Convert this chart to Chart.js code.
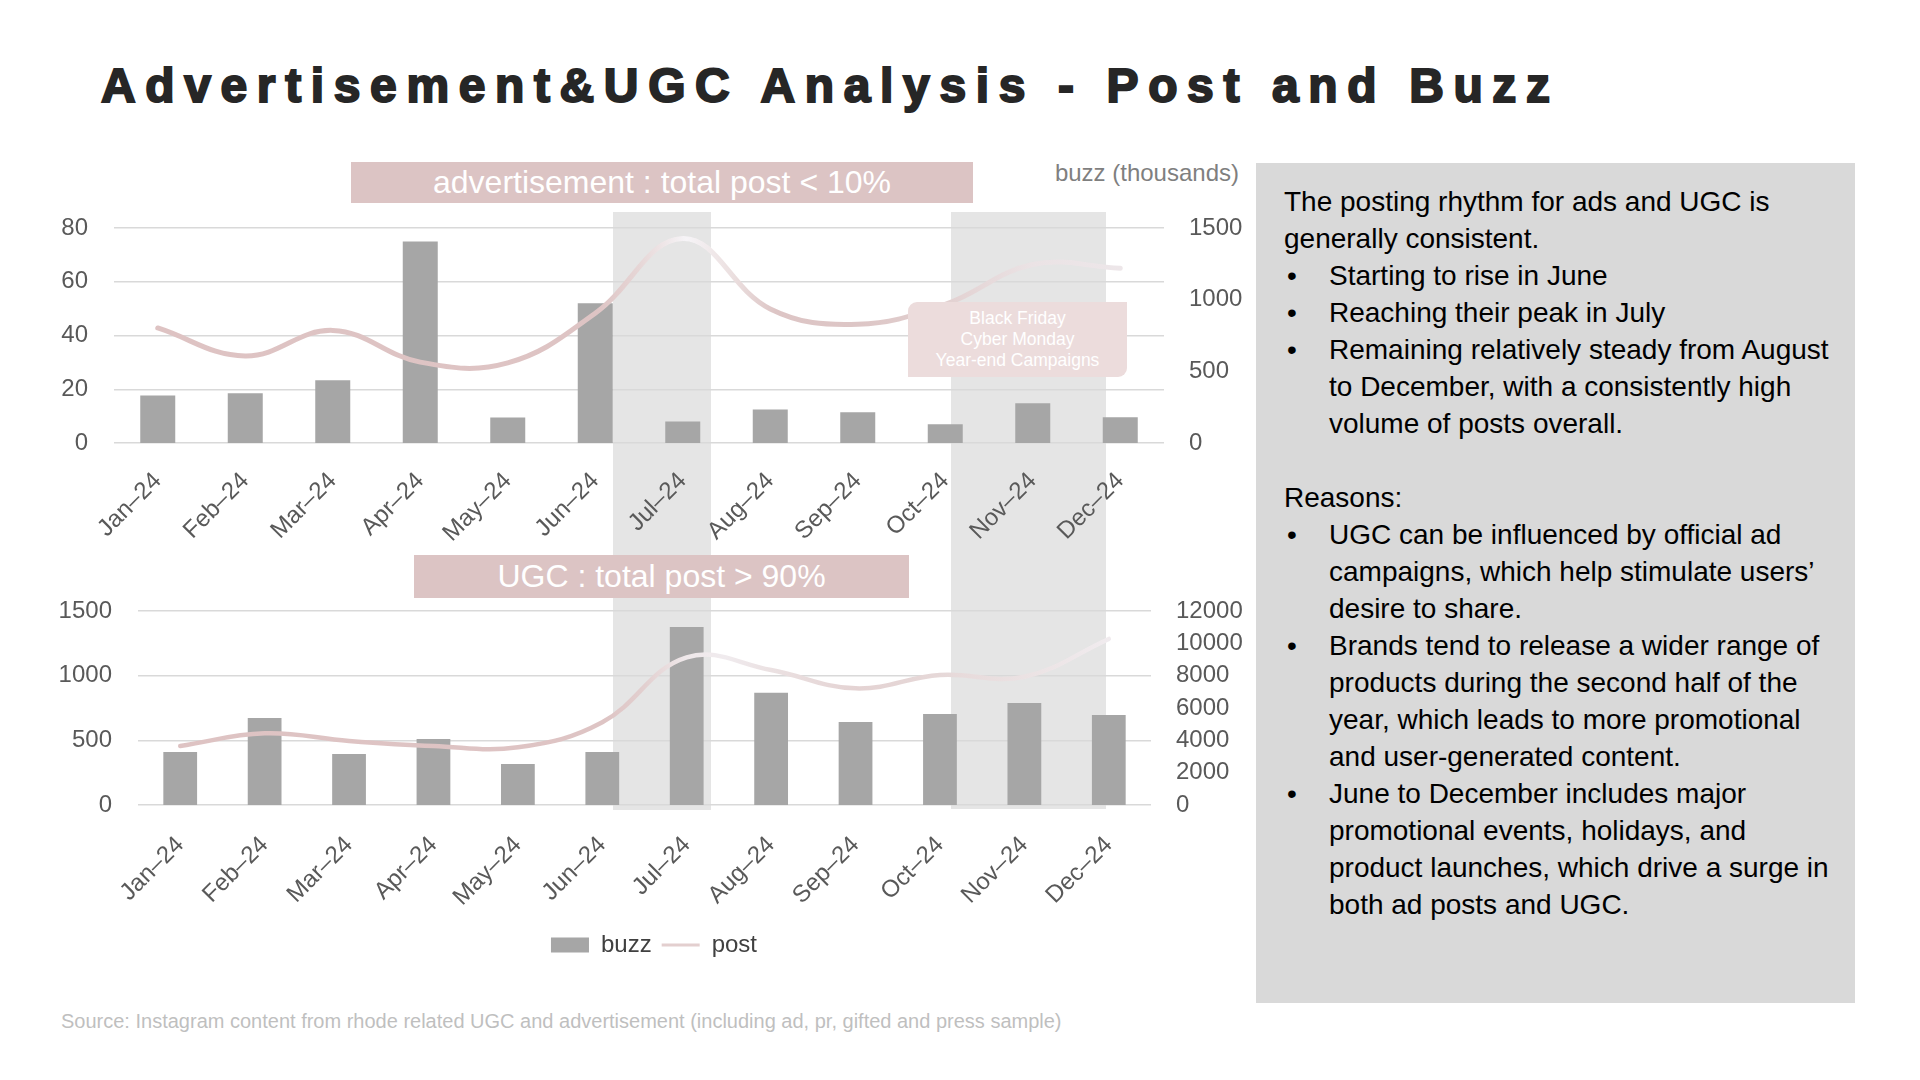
<!DOCTYPE html>
<html>
<head>
<meta charset="utf-8">
<script src="https://cdn.jsdelivr.net/npm/chart.js@4.4.1/dist/chart.umd.min.js"></script>
<style>
  html, body { margin: 0; padding: 0; background: #fff; }
  #slide { position: relative; width: 1920px; height: 1080px; overflow: hidden; background: #fff;
           font-family: "Liberation Sans", Arial, sans-serif; }
  .abs { position: absolute; }
  #title { left: 101px; top: 62px; font-size: 48px; line-height: 48px; font-weight: 700; color: #262626;
           white-space: nowrap; -webkit-text-stroke: 2px #262626; }
  .band { background: #e5e5e5; }
  .tag { background: #dcc4c4; color: #fff; font-size: 32px; text-align: center; white-space: nowrap; }
  #axisNote { left: 1000px; top: 161px; width: 239px; text-align: right; font-size: 24px; line-height: 24px; color: #7f7f7f; }
  #promo { left: 908px; top: 302px; width: 219px; height: 75px; box-sizing: border-box; padding-top: 6px;
           background: #ecdcdc; border-radius: 9px 0 9px 0; color: #fff;
           font-size: 17.5px; line-height: 21px; text-align: center; white-space: nowrap; }
  #notes { left: 1256px; top: 163px; width: 599px; height: 840px; background: #d9d9d9; }
  #notesText { position: absolute; left: 28px; top: 20px; font-size: 28px; line-height: 37px; color: #000; white-space: nowrap; }
  .li { position: relative; padding-left: 45px; }
  .li::before { content: "•"; position: absolute; left: 3px; top: 0; }
  #source { left: 61px; top: 1011px; font-size: 20px; line-height: 20px; color: #bfbfbf; white-space: nowrap; }
</style>
</head>
<body>
<div id="slide">
  <div id="title" class="abs">Advertisement&amp;UGC Analysis - Post and Buzz</div>

  <div class="abs band" style="left:613px; top:212px; width:98px; height:598px;"></div>
  <div class="abs band" style="left:951px; top:212px; width:155px; height:597px;"></div>

  <canvas id="chartAd" class="abs" width="1250" height="360" style="left:0; top:200px;"></canvas>
  <canvas id="chartUgc" class="abs" width="1308" height="387" style="left:0; top:580px;"></canvas>

  <div class="abs tag" style="left:351px; top:162px; width:622px; height:41px; line-height:41px;">advertisement : total post &lt; 10%</div>
  <div class="abs tag" style="left:414px; top:555px; width:495px; height:43px; line-height:43px;">UGC : total post &gt; 90%</div>
  <div id="axisNote" class="abs">buzz (thousands)</div>
  <div id="promo" class="abs">Black Friday<br>Cyber Monday<br>Year-end Campaigns</div>

  <div id="notes" class="abs">
    <div id="notesText">
      <div>The posting rhythm for ads and UGC is<br>generally consistent.</div>
      <div class="li">Starting to rise in June</div>
      <div class="li">Reaching their peak in July</div>
      <div class="li">Remaining relatively steady from August<br>to December, with a consistently high<br>volume of posts overall.</div>
      <div>&nbsp;</div>
      <div>Reasons:</div>
      <div class="li">UGC can be influenced by official ad<br>campaigns, which help stimulate users’<br>desire to share.</div>
      <div class="li">Brands tend to release a wider range of<br>products during the second half of the<br>year, which leads to more promotional<br>and user-generated content.</div>
      <div class="li">June to December includes major<br>promotional events, holidays, and<br>product launches, which drive a surge in<br>both ad posts and UGC.</div>
    </div>
  </div>

  <div id="source" class="abs">Source: Instagram content from rhode related UGC and advertisement (including ad, pr, gifted and press sample)</div>
</div>

<script>
// ── data ────────────────────────────────────────────────────────────────────
const MONTHS = ['Jan–24', 'Feb–24', 'Mar–24', 'Apr–24', 'May–24', 'Jun–24',
                'Jul–24', 'Aug–24', 'Sep–24', 'Oct–24', 'Nov–24', 'Dec–24'];

// advertisement: buzz in thousands (bars, right axis), posts (line, left axis)
const AD_BUZZ = [332, 347, 437, 1406, 178, 975, 150, 234, 214, 131, 278, 180];
const AD_POST = [42.8, 32.4, 41.9, 30.1, 29.8, 48.3, 76.1, 49.9, 44.2, 51.6, 66.4, 65];
const AD_POST_TICKS = [0, 20, 40, 60, 80];
const AD_BUZZ_TICKS = [0, 500, 1000, 1500];

// UGC
const UGC_BUZZ = [3280, 5384, 3152, 4080, 2536, 3280, 11016, 6936, 5136, 5632, 6312, 5568];
const UGC_POST = [456, 554, 495, 456, 446, 640, 1142, 1044, 902, 1005, 992, 1284];
const UGC_POST_TICKS = [0, 500, 1000, 1500];
const UGC_BUZZ_TICKS = [0, 2000, 4000, 6000, 8000, 10000, 12000];

// ── helpers ─────────────────────────────────────────────────────────────────
const FONT = '"Liberation Sans", Arial, sans-serif';
const TICK = { family: FONT, size: 24 };
const TICK_COLOR = '#595959';

// fit the heavy title to its width in the slide
(function fitTitle() {
  const t = document.getElementById('title');
  const w0 = t.getBoundingClientRect().width;
  const n = t.textContent.length;
  t.style.letterSpacing = ((1449 - w0) / (n - 1)) + 'px';
})();

// horizontal gradient along the plot area (pink, fading to white around the peaks)
function lineGradient(stops) {
  let cache = null, key = '';
  return ctx => {
    const area = ctx.chart.chartArea;
    if (!area) return stops[0][1];
    const k = area.left + ':' + area.right;
    if (!cache || k !== key) {
      cache = ctx.chart.ctx.createLinearGradient(area.left, 0, area.right, 0);
      stops.forEach(([p, c]) => cache.addColorStop(p, c));
      key = k;
    }
    return cache;
  };
}

const fixedTicks = list => scale => { scale.ticks = list.map(v => ({ value: v })); };
// fixed axis box, without the label overhang Chart.js would add above the plot
const fixedWidth = w => s => { s.width = w; s.paddingTop = 0; s.paddingBottom = 0; };

function buildChart(id, { buzz, post, postTicks, buzzTicks, leftW, rightW, xH, padTop, xPad, stops, lineW, legend }) {
  return new Chart(document.getElementById(id), {
    type: 'bar',
    data: {
      labels: MONTHS,
      datasets: [
        {
          type: 'bar', label: 'buzz', data: buzz, yAxisID: 'y1', order: 2,
          backgroundColor: '#a6a6a6', borderWidth: 0,
          barPercentage: 0.4, categoryPercentage: 1,
        },
        {
          type: 'line', label: 'post', data: post, yAxisID: 'y', order: 1,
          borderColor: lineGradient(stops), borderWidth: lineW, borderCapStyle: 'round',
          tension: 0.4, pointRadius: 0, fill: false,
        },
      ],
    },
    options: {
      responsive: false, animation: false, events: [],
      layout: { padding: { top: padTop, left: 0, right: 0, bottom: 0 } },
      plugins: {
        tooltip: { enabled: false },
        legend: legend ? {
          display: true, position: 'bottom',
          labels: {
            color: '#404040', font: { family: FONT, size: 24 }, padding: 10,
            usePointStyle: true, pointStyleWidth: 38, boxHeight: 15,
            sort: (a, b) => a.datasetIndex - b.datasetIndex,
            generateLabels: chart => Chart.defaults.plugins.legend.labels.generateLabels(chart).map(item =>
              item.datasetIndex === 1
                ? { ...item, pointStyle: 'line', strokeStyle: '#e3cfcf', fillStyle: '#e3cfcf', lineWidth: 3 }
                : { ...item, pointStyle: 'rect', strokeStyle: '#a6a6a6', fillStyle: '#a6a6a6', lineWidth: 0 }),
          },
        } : { display: false },
      },
      scales: {
        x: {
          grid: { display: false, drawTicks: false }, border: { display: false },
          ticks: { color: TICK_COLOR, font: TICK, minRotation: 45, maxRotation: 45, autoSkip: false, padding: xPad },
          afterFit: s => { s.height = xH; },
        },
        y: {
          position: 'left', min: postTicks[0], max: postTicks[postTicks.length - 1],
          grid: { color: '#d9d9d9', lineWidth: 1.5, drawTicks: false }, border: { display: false },
          ticks: { color: TICK_COLOR, font: TICK, padding: 26, callback: v => String(v) },
          afterBuildTicks: fixedTicks(postTicks),
          afterFit: fixedWidth(leftW),
        },
        y1: {
          position: 'right', min: buzzTicks[0], max: buzzTicks[buzzTicks.length - 1],
          grid: { display: false, drawTicks: false }, border: { display: false },
          ticks: { color: TICK_COLOR, font: TICK, padding: 25, callback: v => String(v) },
          afterBuildTicks: fixedTicks(buzzTicks),
          afterFit: fixedWidth(rightW),
        },
      },
    },
  });
}

// ── 1. advertisement ────────────────────────────────────────────────────────
buildChart('chartAd', {
  buzz: AD_BUZZ, post: AD_POST, postTicks: AD_POST_TICKS, buzzTicks: AD_BUZZ_TICKS,
  leftW: 114, rightW: 86, xH: 117, padTop: 28, xPad: 24, lineW: 5, legend: false,
  stops: [[0, '#dec3c3'], [0.46, '#dec4c4'], [0.5, '#e6d6d6'], [0.545, '#f6f4f7'], [0.59, '#ebdfdf'],
          [0.63, '#ddc5c5'], [0.71, '#ddc6c6'], [0.79, '#e2d0d0'], [0.875, '#ebe3e5'], [1, '#eee8eb']],
});

// ── 2. UGC ──────────────────────────────────────────────────────────────────
buildChart('chartUgc', {
  buzz: UGC_BUZZ, post: UGC_POST, postTicks: UGC_POST_TICKS, buzzTicks: UGC_BUZZ_TICKS,
  leftW: 138, rightW: 157, xH: 118, padTop: 31, xPad: 26, lineW: 4.5, legend: true,
  stops: [[0, '#dec3c3'], [0.46, '#dec4c4'], [0.5, '#e2cfcf'], [0.54, '#efe8ea'], [0.58, '#f0ebee'],
          [0.625, '#ebe1e2'], [0.71, '#e4d3d3'], [0.79, '#e6d8d8'], [0.875, '#ebe2e3'], [1, '#f3f0f4']],
});
</script>
</body>
</html>
